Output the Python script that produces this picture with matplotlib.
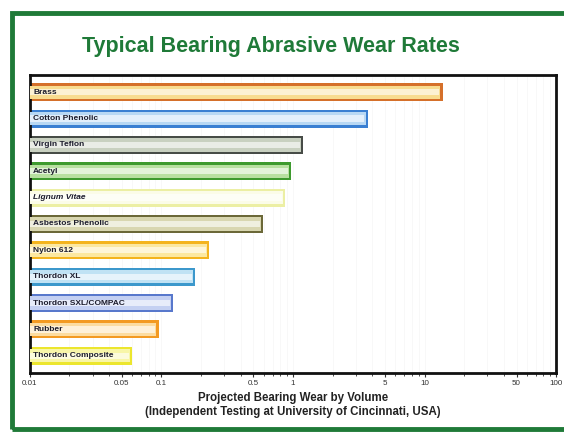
import matplotlib.pyplot as plt
import matplotlib.patches as mpatches
from matplotlib.colors import to_rgb
from matplotlib.ticker import FixedLocator, NullFormatter

plt.rcParams['font.family'] = ['Liberation Sans', 'DejaVu Sans']

materials = ["Brass", "Cotton Phenolic", "Virgin Teflon", "Acetyl", "Lignum Vitae",
             "Asbestos Phenolic", "Nylon 612", "Thordon XL", "Thordon SXL/COMPAC",
             "Rubber", "Thordon Composite"]
wear = [13.7, 3.7, 1.19, 0.97, 0.87, 0.59, 0.23, 0.18, 0.123, 0.095, 0.060]
edge_colors = ["#d5702a", "#3a7fd2", "#474c47", "#3e9a2e", "#ecefa4", "#6b6838",
               "#f4b41e", "#3c98cc", "#5878cc", "#f39a22", "#ece62e"]
inner_colors = ["#f8dc90", "#b8d8f4", "#c8d0c0", "#b8e0a0", "#fbfce8", "#d8d6b0",
                "#fce8a0", "#c0e2f4", "#c4d0f2", "#fcdca0", "#f8f6a8"]
tick_values = [0.01, 0.05, 0.1, 0.5, 1, 5, 10, 50, 100]
tick_labels = ["0.01", "0.05", "0.1", "0.5", "1", "5", "10", "50", "100"]

fig = plt.figure(figsize=(5.64, 4.32), dpi=100)
ax = fig.add_axes([0.053, 0.137, 0.933, 0.689])

x0 = 0.01


def blend(c, f):
    r, g, b = to_rgb(c)
    return (r + (1 - r) * f, g + (1 - g) * f, b + (1 - b) * f)


ypos = list(range(len(materials)))
widths = [w - x0 for w in wear]
# layered bars for the tube-like gradient look
ax.barh(ypos, widths, left=x0, height=0.68, color=edge_colors, zorder=2)
ax.barh(ypos, [w / 1.04 - x0 for w in wear], left=x0, height=0.5,
        color=inner_colors, zorder=3)
ax.barh(ypos, [w / 1.06 - x0 for w in wear], left=x0, height=0.24,
        color=[blend(c, 0.6) for c in inner_colors], zorder=4)

for y, name in zip(ypos, materials):
    ax.text(0.0106, y, name, fontsize=6, fontweight='bold', color='#1c1c2c',
            va='center', ha='left', zorder=5,
            style='italic' if name == "Lignum Vitae" else 'normal')

ax.set_xscale('log')
ax.set_xlim(0.01, 100)
ax.set_ylim(10.65, -0.65)
ax.set_yticks([])
ax.xaxis.set_major_locator(FixedLocator(tick_values))
ax.set_xticklabels(tick_labels)
minor = [m * 10 ** e for e in range(-2, 2) for m in range(2, 10) if m != 5]
ax.xaxis.set_minor_locator(FixedLocator(minor))
ax.xaxis.set_minor_formatter(NullFormatter())
ax.tick_params(axis='x', which='major', labelsize=5.8, length=3, width=0.8,
               pad=2, colors='#333333')
ax.tick_params(axis='x', which='minor', length=2, width=0.6, colors='#333333')
ax.grid(axis='x', which='both', color='#f6f6f6', linewidth=0.5, zorder=0)
for s in ax.spines.values():
    s.set_linewidth(2)
    s.set_color('#111111')

ax.set_xlabel("Projected Bearing Wear by Volume\n(Independent Testing at University of Cincinnati, USA)",
              fontsize=8.3, fontweight='bold', color='#222222', labelpad=4,
              linespacing=1.15)

fig.text(0.48, 0.892, "Typical Bearing Abrasive Wear Rates", fontsize=15.5,
         fontweight='bold', color='#1f7a38', ha='center', va='center')

frame = mpatches.Rectangle((0.021, 0.008), 1.0, 0.962, transform=fig.transFigure,
                           fill=False, edgecolor='#1f7a38', linewidth=3.5)
fig.patches.append(frame)

fig.savefig("out.png", dpi=100)
